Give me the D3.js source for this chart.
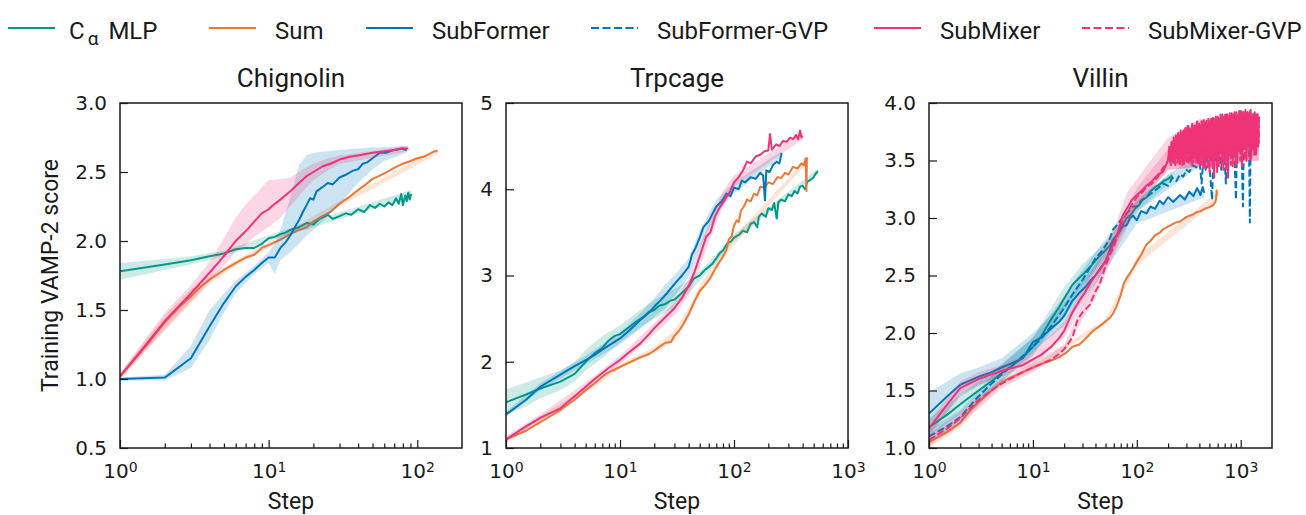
<!DOCTYPE html>
<html>
<head>
<meta charset="utf-8">
<script src="https://cdn.jsdelivr.net/npm/d3@7"></script>
<style>
  body { margin: 0; background: #fff; }
</style>
</head>
<body>
<div id="plot"></div>
<script>
// ---- data ----
const seriesNames = ["Cα MLP", "Sum", "SubFormer", "SubFormer-GVP", "SubMixer", "SubMixer-GVP"];
const seriesColors = ["#009988", "#EE7733", "#0077BB", "#0077BB", "#EE3377", "#EE3377"];
const seriesDashed = [false, false, false, true, false, true];

const panelTitles = ["Chignolin", "Trpcage", "Villin"];
const chigXDomain = [1, 200];
const trpXDomain = [1, 1000];
const vilXDomain = [1, 2000];
const chigXTicks = [1, 10, 100];
const trpXTicks = [1, 10, 100, 1000];
const vilXTicks = [1, 10, 100, 1000];
const chigYTicks = [0.5, 1.0, 1.5, 2.0, 2.5, 3.0];
const trpYTicks = [1, 2, 3, 4, 5];
const vilYTicks = [1.0, 1.5, 2.0, 2.5, 3.0, 3.5, 4.0];

// Chignolin: [step, score] and bands [step, low, high]
const chigMlp = [[1,1.78],[2,1.83],[3,1.86],[4,1.89],[5,1.91],[6,1.94],[7,1.95],[8,1.95],[9,1.98],[10,2.02],[11,2.03],[12,2.05],[13,2.06],[14,2.08],[15,2.09],[16,2.1],[18,2.13],[20,2.12],[22,2.16],[25,2.19],[27,2.16],[30,2.18],[33,2.2],[36,2.19],[40,2.23],[44,2.21],[48,2.26],[52,2.24],[56,2.27],[60,2.25],[64,2.28],[68,2.26],[72,2.31],[75,2.27],[78,2.34],[80,2.26],[83,2.33],[85,2.29],[87,2.35],[89,2.3],[91,2.34]];
const chigMlpBand = [[1,1.72,1.84],[2,1.79,1.87],[3,1.83,1.89],[5,1.89,1.93],[10,2.0,2.04],[20,2.1,2.15],[50,2.23,2.28],[91,2.3,2.37]];
const chigSum = [[1,1.02],[1.5,1.24],[2,1.41],[2.5,1.52],[3,1.6],[3.5,1.67],[4,1.72],[5,1.79],[6,1.84],[7,1.88],[8,1.9],[9,1.95],[10,1.97],[12,2.01],[14,2.05],[16,2.08],[18,2.1],[20,2.14],[23,2.18],[26,2.21],[30,2.27],[35,2.32],[40,2.37],[45,2.41],[50,2.45],[55,2.47],[60,2.49],[65,2.51],[70,2.53],[80,2.56],[90,2.58],[100,2.6],[110,2.61],[120,2.63],[130,2.65],[137,2.65]];
const chigSumBand = [[1,1.0,1.04],[2,1.35,1.46],[3,1.55,1.65],[4,1.69,1.75],[6,1.82,1.86],[10,1.95,1.99],[30,2.25,2.29],[137,2.63,2.67]];
const chigSF = [[1,1.0],[2,1.01],[3,1.15],[4,1.38],[5,1.55],[6,1.67],[7,1.74],[8,1.79],[9,1.84],[10,1.88],[11,1.88],[12,1.95],[13,1.99],[14,2.04],[15,2.1],[16,2.15],[17,2.21],[18,2.26],[19,2.31],[20,2.3],[21,2.36],[23,2.39],[25,2.42],[27,2.41],[30,2.46],[33,2.48],[37,2.51],[40,2.52],[43,2.56],[46,2.57],[50,2.6],[56,2.64],[62,2.64],[70,2.66],[78,2.67],[85,2.66]];
const chigSFBand = [[1,0.99,1.01],[2,0.99,1.03],[3,1.08,1.24],[4,1.28,1.5],[5,1.48,1.62],[6,1.62,1.71],[8,1.76,1.82],[10,1.84,1.92],[11,1.76,1.98],[12,1.86,2.08],[14,1.92,2.32],[16,1.98,2.55],[18,2.04,2.62],[20,2.08,2.64],[25,2.18,2.65],[30,2.27,2.66],[40,2.42,2.67],[50,2.52,2.68],[60,2.58,2.68],[85,2.64,2.69]];
const chigSM = [[1,1.02],[1.5,1.25],[2,1.42],[2.5,1.53],[3,1.62],[4,1.77],[5,1.89],[6,2.0],[7,2.07],[8,2.14],[9,2.2],[10,2.23],[11,2.27],[12,2.3],[14,2.36],[16,2.42],[18,2.47],[20,2.5],[23,2.54],[26,2.56],[30,2.59],[35,2.61],[40,2.62],[45,2.63],[50,2.64],[60,2.65],[70,2.66],[80,2.67],[87,2.67]];
const chigSMBand = [[1,1.0,1.04],[2,1.36,1.48],[3,1.56,1.68],[4,1.71,1.85],[5,1.82,2.02],[6,1.92,2.17],[7,1.97,2.26],[8,2.03,2.33],[10,2.1,2.44],[12,2.17,2.45],[14,2.25,2.46],[17,2.36,2.52],[20,2.44,2.56],[25,2.51,2.6],[30,2.56,2.62],[87,2.65,2.69]];

// Trpcage
const trpMlp = [[1,1.53],[1.5,1.62],[2,1.69],[3,1.77],[4,1.86],[5,2.0],[6,2.1],[7,2.16],[8,2.25],[9,2.3],[10,2.32],[12,2.4],[14,2.47],[16,2.52],[18,2.58],[20,2.6],[22,2.65],[25,2.67],[28,2.71],[30,2.72],[35,2.8],[40,2.87],[44,2.96],[50,3.0],[55,3.06],[60,3.1],[65,3.14],[70,3.2],[75,3.26],[80,3.29],[87,3.37],[95,3.4],[100,3.44],[110,3.47],[120,3.52],[130,3.5],[140,3.6],[150,3.62],[160,3.56],[165,3.68],[175,3.72],[190,3.68],[200,3.78],[215,3.76],[225,3.84],[237,3.66],[245,3.85],[260,3.88],[280,3.86],[300,3.94],[320,3.92],[340,3.98],[360,3.95],[380,4.03],[400,4.04],[420,4.0],[440,4.09],[460,4.1],[480,4.12],[500,4.14],[520,4.18],[545,4.21]];
const trpMlpBand = [[1,1.38,1.68],[1.5,1.48,1.76],[2,1.58,1.82],[3,1.67,1.9],[4,1.77,2.0],[5,1.9,2.14],[7,2.04,2.3],[10,2.22,2.42],[15,2.4,2.6],[20,2.5,2.72],[30,2.63,2.84],[40,2.8,2.94],[60,3.05,3.15],[100,3.4,3.48],[545,4.18,4.24]];
const trpSum = [[1,1.1],[1.5,1.2],[2,1.3],[3,1.44],[4,1.56],[5,1.67],[6,1.75],[7,1.83],[8,1.88],[9,1.91],[10,1.94],[12,1.99],[15,2.05],[18,2.09],[20,2.13],[22,2.17],[25,2.22],[28,2.23],[30,2.3],[33,2.36],[36,2.44],[40,2.55],[45,2.7],[50,2.82],[55,2.88],[62,2.97],[70,3.1],[80,3.22],[86,3.3],[90,3.42],[95,3.45],[100,3.58],[106,3.64],[110,3.62],[115,3.75],[122,3.8],[130,3.88],[140,3.86],[150,3.95],[160,3.93],[170,4.03],[185,4.02],[200,4.08],[220,4.06],[240,4.14],[260,4.13],[280,4.19],[300,4.17],[330,4.26],[360,4.24],[390,4.3],[410,4.28],[425,4.36],[432,3.98],[436,4.36],[440,4.33]];
const trpSumBand = [[1,1.08,1.12],[5,1.64,1.7],[10,1.92,1.97],[20,2.1,2.17],[30,2.24,2.36],[40,2.5,2.62],[50,2.78,2.88],[86,3.25,3.35],[440,4.31,4.37]];
const trpSF = [[1,1.39],[1.5,1.56],[2,1.71],[3,1.85],[4,1.95],[5,2.02],[6,2.08],[7,2.14],[8,2.19],[10,2.27],[12,2.36],[15,2.48],[18,2.57],[20,2.64],[23,2.72],[26,2.8],[30,2.9],[35,3.0],[40,3.1],[43,3.25],[46,3.32],[50,3.44],[54,3.56],[60,3.63],[65,3.72],[70,3.8],[78,3.86],[86,3.95],[93,3.92],[100,4.02],[110,4.0],[117,4.1],[125,4.08],[140,4.14],[155,4.12],[170,4.19],[180,4.16],[187,3.87],[192,4.22],[205,4.2],[220,4.28],[237,4.32],[250,4.3],[262,4.42]];
const trpSFBand = [[1,1.36,1.42],[2,1.67,1.75],[5,1.97,2.07],[10,2.2,2.34],[15,2.38,2.56],[20,2.52,2.74],[25,2.62,2.9],[30,2.76,3.0],[40,2.98,3.2],[50,3.32,3.52],[70,3.72,3.88],[100,3.95,4.08],[262,4.38,4.44]];
const trpSM = [[1,1.1],[1.5,1.25],[2,1.35],[3,1.46],[4,1.6],[5,1.71],[6,1.8],[7,1.87],[8,1.93],[10,2.02],[12,2.11],[15,2.21],[18,2.32],[20,2.39],[23,2.47],[26,2.54],[30,2.62],[35,2.74],[40,2.88],[45,3.04],[50,3.22],[57,3.45],[62,3.5],[68,3.68],[75,3.79],[85,3.9],[92,3.97],[100,4.08],[110,4.14],[120,4.22],[130,4.32],[140,4.3],[155,4.38],[170,4.4],[185,4.44],[200,4.45],[207,4.64],[215,4.46],[235,4.52],[250,4.5],[270,4.56],[290,4.55],[310,4.6],[330,4.58],[350,4.63],[365,4.58],[380,4.68],[390,4.6],[400,4.62]];
const trpSMBand = [[1,1.06,1.14],[2,1.31,1.39],[5,1.66,1.76],[10,1.97,2.07],[20,2.32,2.45],[30,2.54,2.68],[40,2.76,2.96],[50,3.1,3.34],[60,3.38,3.6],[80,3.8,3.98],[100,4.03,4.16],[400,4.58,4.66]];

// Villin
const vilMlp = [[1,1.18],[1.5,1.29],[2,1.38],[3,1.5],[4,1.58],[5,1.65],[6,1.7],[8,1.79],[10,1.88],[12,1.97],[15,2.12],[18,2.23],[20,2.3],[24,2.42],[28,2.48],[32,2.53],[36,2.58],[40,2.63],[45,2.68],[50,2.72],[55,2.76],[60,2.82],[66,2.86],[72,2.93],[80,3.0],[88,3.03],[96,3.08],[105,3.11],[114,3.16],[124,3.18],[135,3.23],[150,3.27],[165,3.29],[180,3.32],[200,3.34],[220,3.37]];
const vilMlpBand = [[1,1.1,1.26],[2,1.3,1.46],[3,1.43,1.58],[5,1.58,1.73],[10,1.8,1.96],[20,2.2,2.4],[30,2.42,2.6],[50,2.65,2.79],[100,3.05,3.15],[220,3.33,3.41]];
const vilSum = [[1,1.05],[1.5,1.14],[2,1.22],[2.5,1.33],[3,1.4],[4,1.5],[5,1.57],[6,1.61],[8,1.66],[10,1.7],[12,1.73],[15,1.76],[18,1.79],[21,1.83],[24,1.88],[28,1.9],[32,1.95],[38,2.02],[44,2.06],[50,2.1],[56,2.14],[60,2.18],[65,2.25],[70,2.33],[75,2.43],[80,2.48],[86,2.52],[93,2.57],[100,2.62],[110,2.68],[124,2.77],[135,2.8],[150,2.85],[165,2.87],[178,2.9],[195,2.92],[215,2.94],[235,2.96],[260,2.97],[290,3.0],[320,3.02],[350,3.03],[375,3.05],[410,3.06],[450,3.08],[490,3.09],[540,3.11],[570,3.14],[580,3.17],[587,3.24],[590,3.19]];
const vilSumBand = [[1,1.0,1.1],[2,1.18,1.27],[3,1.36,1.45],[5,1.55,1.59],[10,1.68,1.72],[50,2.08,2.12],[100,2.59,2.66],[590,3.15,3.22]];
const vilSF = [[1,1.3],[1.5,1.45],[2,1.55],[3,1.62],[4,1.66],[5,1.7],[6,1.73],[8,1.78],[10,1.92],[12,1.96],[15,2.04],[18,2.1],[20,2.15],[24,2.28],[28,2.35],[32,2.4],[36,2.46],[40,2.5],[45,2.57],[50,2.62],[55,2.72],[59,2.8],[65,2.85],[72,2.92],[80,2.94],[86,3.0],[92,3.02],[100,2.98],[110,3.06],[124,3.04],[135,3.1],[150,3.08],[166,3.15],[180,3.12],[200,3.18],[225,3.14],[260,3.2],[290,3.16],[320,3.23],[350,3.19],[380,3.26],[410,3.2],[430,3.27],[445,3.22]];
const vilSFBand = [[1,1.12,1.48],[2,1.45,1.65],[3,1.54,1.7],[5,1.64,1.78],[10,1.84,2.0],[20,2.06,2.26],[30,2.28,2.46],[50,2.55,2.7],[100,2.95,3.05],[445,3.18,3.26]];
const vilSFG = [[1,1.1],[1.5,1.19],[2,1.27],[3,1.45],[4,1.56],[5,1.64],[6,1.7],[8,1.8],[10,1.88],[12,1.95],[15,2.06],[18,2.16],[20,2.22],[25,2.36],[30,2.46],[35,2.56],[40,2.65],[45,2.7],[50,2.76],[55,2.82],[59,2.9],[65,2.94],[72,3.0],[80,3.04],[90,3.1],[100,3.1],[112,3.16],[124,3.18],[140,3.22],[160,3.26],[180,3.3],[200,3.28],[220,3.35],[240,3.32],[260,3.38],[280,3.36],[300,3.42],[320,3.4],[345,3.46],[375,3.44],[400,3.52],[420,3.3],[440,3.54],[460,3.42],[480,3.58],[500,3.46],[530,3.16],[550,3.6],[580,3.5],[620,3.68],[650,3.42],[680,3.72],[720,3.3],[750,3.76],[790,3.6],[820,3.82],[860,3.68],[900,3.16],[930,3.86],[970,3.74],[1000,3.9],[1050,3.1],[1080,3.88],[1120,3.6],[1160,3.92],[1200,3.7],[1225,2.96],[1250,3.86],[1290,3.66],[1330,3.9],[1360,3.75]];
const vilSFGBand = [[1,1.05,1.16],[2,1.22,1.33],[5,1.58,1.72],[10,1.82,1.96],[20,2.14,2.32],[30,2.38,2.55],[50,2.7,2.82],[100,3.05,3.16],[400,3.45,3.58],[1360,3.7,3.9]];
const vilSM = [[1,1.17],[1.5,1.38],[2,1.52],[3,1.6],[4,1.64],[5,1.67],[6,1.69],[8,1.72],[10,1.77],[12,1.81],[15,1.88],[18,1.96],[20,2.02],[24,2.18],[28,2.28],[32,2.36],[36,2.44],[40,2.5],[45,2.56],[50,2.63],[55,2.7],[60,2.78],[66,2.88],[73,3.02],[80,3.08],[90,3.16],[100,3.2],[112,3.24],[124,3.28],[140,3.32],[160,3.38],[178,3.4],
  [200,3.5],[205,3.62],[210,3.48],[215,3.66],[220,3.5],[226,3.7],[232,3.48],[238,3.72],[244,3.52],[250,3.74],[257,3.47],[264,3.76],[271,3.5],[278,3.75],[285,3.47],[292,3.78],[300,3.55],[308,3.8],[316,3.48],[324,3.78],[332,3.5],[341,3.82],[350,3.48],[359,3.8],[368,3.55],[378,3.83],[388,3.48],[398,3.82],[408,3.46],[419,3.84],[430,3.52],[441,3.85],[452,3.44],[464,3.83],[476,3.55],[488,3.86],[501,3.4],[514,3.85],[527,3.5],[541,3.87],[555,3.35],[569,3.86],[584,3.55],[599,3.88],[615,3.45],[631,3.86],[647,3.6],[664,3.9],[681,3.42],[699,3.88],[717,3.5],[736,3.9],[755,3.35],[775,3.89],[795,3.55],[816,3.91],[837,3.45],[859,3.9],[881,3.6],[904,3.92],[928,3.48],[952,3.9],[977,3.58],[1002,3.93],[1028,3.45],[1055,3.92],[1082,3.6],[1110,3.94],[1139,3.5],[1169,3.92],[1199,3.62],[1230,3.93],[1262,3.52],[1295,3.9],[1329,3.6],[1364,3.92],[1400,3.55],[1436,3.9],[1473,3.62],[1500,3.88]];
const vilSMBand = [[1,1.1,1.24],[2,1.46,1.58],[3,1.55,1.66],[5,1.62,1.72],[10,1.72,1.84],[20,1.96,2.1],[40,2.42,2.6],[60,2.7,2.9],[80,2.98,3.22],[124,3.2,3.45],[200,3.42,3.7],[400,3.44,3.86],[1500,3.5,3.92]];
const vilSMG = [[1,1.07],[1.5,1.17],[2,1.26],[3,1.42],[4,1.5],[5,1.56],[6,1.6],[8,1.66],[10,1.7],[12,1.73],[15,1.77],[18,1.82],[20,1.86],[24,1.96],[27,2.12],[30,2.18],[35,2.24],[40,2.36],[44,2.43],[50,2.58],[55,2.68],[60,2.75],[66,2.86],[73,2.98],[80,3.04],[90,3.12],[100,3.18],[112,3.22],[124,3.27],[140,3.3],[160,3.36],[180,3.44],
  [200,3.5],[207,3.58],[213,3.46],[218,3.64],[223,3.48],[229,3.68],[235,3.46],[241,3.7],[247,3.48],[254,3.72],[261,3.47],[268,3.74],[275,3.46],[282,3.76],[289,3.5],[296,3.78],[304,3.47],[312,3.8],[320,3.5],[328,3.76],[337,3.47],[346,3.8],[355,3.52],[364,3.82],[373,3.47],[383,3.84],[393,3.5],[403,3.8],[414,3.46],[425,3.85],[436,3.42],[447,3.84],[458,3.5],[470,3.86],[482,3.42],[495,3.84],[508,3.55],[521,3.87],[534,3.44],[548,3.86],[562,3.52],[577,3.88],[592,3.4],[607,3.87],[623,3.58],[639,3.9],[656,3.45],[673,3.88],[690,3.52],[708,3.9],[727,3.4],[746,3.9],[765,3.58],[785,3.91],[806,3.46],[827,3.9],[848,3.56],[870,3.92],[893,3.44],[916,3.9],[940,3.6],[965,3.93],[990,3.5],[1015,3.92],[1042,3.6],[1069,3.94],[1096,3.5],[1125,3.93],[1154,3.62],[1184,3.92],[1215,3.52],[1246,3.94],[1279,3.6],[1312,3.92],[1346,3.55],[1382,3.9],[1418,3.62],[1455,3.9],[1490,3.65],[1500,3.8]];
const vilSMGBand = [[1,1.02,1.12],[2,1.2,1.31],[5,1.52,1.6],[10,1.66,1.74],[20,1.82,1.9],[30,2.12,2.24],[40,2.3,2.44],[55,2.6,2.76],[100,3.1,3.26],[200,3.42,3.6],[1500,3.5,3.9]];

// ---- layout ----
const svg_w = 1306;
const svg_h = 515;
const plotTop = 103;
const plotBottom = 448;
const panelLeft = [120, 506, 929];
const panelWidth = [342, 342, 343];
const legendX = [8, 209, 366, 591, 874, 1082];
const tickFont = "'DejaVu Sans', sans-serif";
const textFont = "Roboto, 'DejaVu Sans', sans-serif";

const panels = [
  {title: panelTitles[0], xDomain: chigXDomain, xTicks: chigXTicks, yTicks: chigYTicks, yFmt: d3.format(".1f"),
   lines: [chigMlp, chigSum, chigSF, null, chigSM, null],
   bands: [chigMlpBand, chigSumBand, chigSFBand, null, chigSMBand, null]},
  {title: panelTitles[1], xDomain: trpXDomain, xTicks: trpXTicks, yTicks: trpYTicks, yFmt: d3.format("d"),
   lines: [trpMlp, trpSum, trpSF, null, trpSM, null],
   bands: [trpMlpBand, trpSumBand, trpSFBand, null, trpSMBand, null]},
  {title: panelTitles[2], xDomain: vilXDomain, xTicks: vilXTicks, yTicks: vilYTicks, yFmt: d3.format(".1f"),
   lines: [vilMlp, vilSum, vilSF, vilSFG, vilSM, vilSMG],
   bands: [vilMlpBand, vilSumBand, vilSFBand, vilSFGBand, vilSMBand, vilSMGBand]}
];

const svg = d3.select("#plot")
  .append("svg")
    .attr("width", svg_w)
    .attr("height", svg_h);

svg.append("rect")
    .attr("width", svg_w)
    .attr("height", svg_h)
    .attr("fill", "white");

const defs = svg.append("defs");

panels.forEach(function(p, i) {
  const left = panelLeft[i];
  const right = left + panelWidth[i];
  const xScale = d3.scaleLog().domain(p.xDomain).range([left, right]);
  const yScale = d3.scaleLinear().domain(d3.extent(p.yTicks)).range([plotBottom, plotTop]);

  defs.append("clipPath")
      .attr("id", "clip" + i)
    .append("rect")
      .attr("x", left)
      .attr("y", plotTop)
      .attr("width", right - left)
      .attr("height", plotBottom - plotTop);

  const marks = svg.append("g").attr("clip-path", `url(#clip${i})`);

  const area = d3.area()
      .x(d => xScale(d[0]))
      .y0(d => yScale(d[1]))
      .y1(d => yScale(d[2]));
  const line = d3.line()
      .x(d => xScale(d[0]))
      .y(d => yScale(d[1]));

  p.lines.forEach(function(data, k) {
    if (!data) return;
    marks.append("path")
        .datum(p.bands[k])
        .attr("d", area)
        .attr("fill", seriesColors[k])
        .attr("fill-opacity", 0.2);
    marks.append("path")
        .datum(data)
        .attr("d", line)
        .attr("fill", "none")
        .attr("stroke", seriesColors[k])
        .attr("stroke-width", 2)
        .attr("stroke-linejoin", "round")
        .attr("stroke-dasharray", seriesDashed[k] ? "7,3" : null);
  });

  // minor x ticks (2..9 in each decade)
  const minor = [];
  for (let e = 0; e < 4; e++) {
    for (let m = 2; m < 10; m++) {
      const v = m * Math.pow(10, e);
      if (v < p.xDomain[1]) minor.push(v);
    }
  }
  const xMinor = d3.axisBottom(xScale).tickValues(minor).tickSizeInner(-4.5).tickSizeOuter(0).tickFormat("");
  const gMinor = svg.append("g")
      .attr("transform", `translate(0, ${plotBottom})`)
      .call(xMinor);
  gMinor.select(".domain").remove();

  const xAxis = d3.axisBottom(xScale)
      .tickValues(p.xTicks)
      .tickSizeInner(-8)
      .tickSizeOuter(0)
      .tickPadding(16)
      .tickFormat(() => "10");
  const gx = svg.append("g")
      .attr("transform", `translate(0, ${plotBottom})`)
      .call(xAxis);
  gx.select(".domain").remove();
  gx.selectAll(".tick text")
      .attr("font-family", tickFont)
      .attr("font-size", 20)
      .attr("fill", "#1a1a1a")
      .append("tspan")
        .attr("dy", "-0.45em")
        .attr("font-size", 14)
        .text(d => Math.round(Math.log10(d)));

  const yAxis = d3.axisLeft(yScale)
      .tickValues(p.yTicks)
      .tickSizeInner(-8)
      .tickSizeOuter(0)
      .tickPadding(13)
      .tickFormat(p.yFmt);
  const gy = svg.append("g")
      .attr("transform", `translate(${left}, 0)`)
      .call(yAxis);
  gy.select(".domain").remove();
  gy.selectAll(".tick text")
      .attr("font-family", tickFont)
      .attr("font-size", 20)
      .attr("fill", "#1a1a1a");

  svg.selectAll(".tick line").attr("stroke", "#1a1a1a").attr("stroke-width", 1.2);

  // frame
  svg.append("rect")
      .attr("x", left)
      .attr("y", plotTop)
      .attr("width", right - left)
      .attr("height", plotBottom - plotTop)
      .attr("fill", "none")
      .attr("stroke", "#1a1a1a")
      .attr("stroke-width", 1.5);

  svg.append("text")
      .attr("x", (left + right) / 2)
      .attr("y", 87)
      .attr("text-anchor", "middle")
      .style("font-family", textFont)
      .style("font-size", "26px")
      .attr("fill", "#1a1a1a")
      .text(p.title);

  svg.append("text")
      .attr("x", (left + right) / 2)
      .attr("y", 509)
      .attr("text-anchor", "middle")
      .style("font-family", textFont)
      .style("font-size", "23px")
      .attr("fill", "#1a1a1a")
      .text("Step");
});

// y label
svg.append("text")
    .attr("transform", `translate(58, ${(plotTop + plotBottom) / 2}) rotate(-90)`)
    .attr("text-anchor", "middle")
    .style("font-family", textFont)
    .style("font-size", "23px")
    .attr("fill", "#1a1a1a")
    .text("Training VAMP-2 score");

// legend
const legend = svg.append("g");
seriesNames.forEach(function(name, k) {
  const lx = legendX[k];
  legend.append("line")
      .attr("x1", lx).attr("x2", lx + 47)
      .attr("y1", 28).attr("y2", 28)
      .attr("stroke", seriesColors[k])
      .attr("stroke-width", 2)
      .attr("stroke-dasharray", seriesDashed[k] ? "8,3.5" : null);
  const t = legend.append("text")
      .attr("x", lx + (k === 0 ? 61 : 66))
      .attr("y", 39)
      .style("font-family", textFont)
      .style("font-size", "24px")
      .attr("fill", "#1a1a1a");
  if (k === 0) {
    t.text("C");
    t.append("tspan").attr("dy", 6).attr("dx", 3).style("font-size", "19px").text("α");
    t.append("tspan").attr("dy", -6).attr("dx", 10).text("MLP");
  } else {
    t.text(name);
  }
});
</script>
</body>
</html>
